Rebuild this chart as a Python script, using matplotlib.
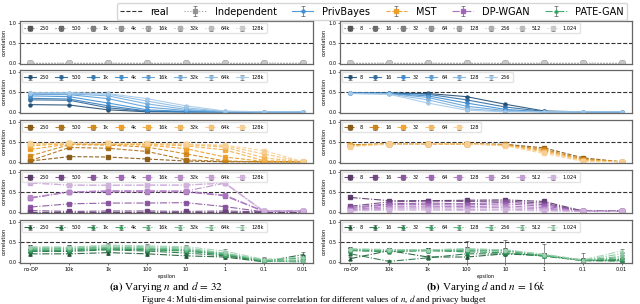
import numpy as np
import matplotlib.pyplot as plt
import matplotlib.colors as mcolors

# x categories (privacy budget) and series labels
eps_labels = ['no-DP', '10k', '1k', '100', '10', '1', '0.1', '0.01']
n_labels   = ['250', '500', '1k', '4k', '16k', '32k', '64k', '128k']
d_labels   = ['8', '16', '32', '64', '128', '256', '512', '1,024']
real_corr  = 0.5

# Independent: zero correlation everywhere
ind_n = [[0.0] * 8 for _ in range(8)]
ind_d = [[0.0] * 8 for _ in range(8)]

# PrivBayes
pb_n = [[0.18, 0.17, 0.05, 0.00, 0.00, 0.00, 0.00, 0.00],
        [0.30, 0.29, 0.10, 0.01, 0.00, 0.00, 0.00, 0.00],
        [0.34, 0.32, 0.15, 0.02, 0.00, 0.00, 0.00, 0.00],
        [0.40, 0.38, 0.22, 0.05, 0.01, 0.00, 0.00, 0.00],
        [0.44, 0.43, 0.33, 0.12, 0.03, 0.00, 0.00, 0.00],
        [0.46, 0.45, 0.40, 0.20, 0.06, 0.00, 0.00, 0.00],
        [0.47, 0.47, 0.44, 0.27, 0.10, 0.01, 0.00, 0.00],
        [0.48, 0.48, 0.46, 0.33, 0.15, 0.02, 0.00, 0.00]]
pb_d = [[0.47, 0.47, 0.46, 0.38, 0.19, 0.02, 0.00, 0.00],
        [0.47, 0.47, 0.44, 0.30, 0.12, 0.01, 0.00, 0.00],
        [0.47, 0.46, 0.40, 0.22, 0.06, 0.00, 0.00, 0.00],
        [0.47, 0.46, 0.36, 0.14, 0.03, 0.00, 0.00, 0.00],
        [0.46, 0.45, 0.30, 0.08, 0.01, 0.00, 0.00, 0.00],
        [0.46, 0.44, 0.22, 0.04, 0.00, 0.00, 0.00, 0.00]]

# MST
mst_n = [[0.02, 0.13, 0.12, 0.07, 0.02, 0.00, 0.00, 0.00],
         [0.03, 0.36, 0.34, 0.26, 0.05, 0.01, 0.00, 0.00],
         [0.15, 0.43, 0.42, 0.37, 0.20, 0.02, 0.00, 0.00],
         [0.31, 0.45, 0.44, 0.42, 0.33, 0.12, 0.01, 0.00],
         [0.40, 0.46, 0.45, 0.44, 0.40, 0.30, 0.03, 0.00],
         [0.44, 0.46, 0.46, 0.45, 0.43, 0.37, 0.10, 0.00],
         [0.45, 0.47, 0.46, 0.46, 0.44, 0.40, 0.20, 0.00],
         [0.46, 0.47, 0.46, 0.46, 0.45, 0.42, 0.28, 0.01]]
mst_d = [[0.43, 0.45, 0.45, 0.45, 0.44, 0.35, 0.10, 0.00],
         [0.42, 0.45, 0.45, 0.45, 0.43, 0.31, 0.07, 0.00],
         [0.41, 0.45, 0.45, 0.45, 0.42, 0.28, 0.05, 0.00],
         [0.40, 0.45, 0.45, 0.45, 0.41, 0.25, 0.03, 0.00],
         [0.38, 0.44, 0.45, 0.45, 0.40, 0.21, 0.01, 0.00]]

# DP-WGAN
wg_n = [[0.00, 0.00, 0.00, 0.00, 0.00, 0.00, 0.00, 0.00],
        [0.03, 0.01, 0.02, 0.02, 0.01, 0.02, 0.00, 0.00],
        [0.12, 0.20, 0.22, 0.22, 0.23, 0.13, 0.00, 0.01],
        [0.35, 0.50, 0.50, 0.50, 0.50, 0.40, 0.01, 0.02],
        [0.34, 0.50, 0.52, 0.52, 0.52, 0.42, 0.02, 0.02],
        [0.36, 0.50, 0.53, 0.53, 0.52, 0.72, 0.01, 0.02],
        [0.72, 0.67, 0.67, 0.67, 0.67, 0.72, 0.02, 0.02],
        [0.74, 0.67, 0.66, 0.67, 0.67, 0.73, 0.02, 0.02]]
wg_d = [[0.36, 0.28, 0.28, 0.29, 0.30, 0.26, 0.02, 0.02],
        [0.14, 0.25, 0.27, 0.26, 0.27, 0.22, 0.01, 0.03],
        [0.11, 0.20, 0.22, 0.20, 0.24, 0.18, 0.02, 0.02],
        [0.08, 0.18, 0.18, 0.17, 0.20, 0.14, 0.02, 0.01],
        [0.05, 0.14, 0.14, 0.13, 0.15, 0.10, 0.01, 0.01],
        [0.04, 0.10, 0.10, 0.10, 0.11, 0.07, 0.01, 0.02],
        [0.03, 0.07, 0.07, 0.06, 0.07, 0.04, 0.01, 0.01],
        [0.02, 0.04, 0.04, 0.03, 0.04, 0.02, 0.01, 0.01]]

# PATE-GAN
pg_n = [[0.20, 0.20, 0.23, 0.20, 0.15, 0.12, 0.00, 0.18],
        [0.26, 0.26, 0.30, 0.27, 0.22, 0.15, 0.02, 0.00],
        [0.28, 0.28, 0.32, 0.30, 0.27, 0.17, 0.01, 0.05],
        [0.30, 0.30, 0.33, 0.31, 0.29, 0.18, 0.03, 0.10],
        [0.32, 0.33, 0.35, 0.33, 0.30, 0.20, 0.04, 0.02],
        [0.34, 0.34, 0.37, 0.35, 0.32, 0.21, 0.02, 0.00],
        [0.36, 0.36, 0.40, 0.38, 0.35, 0.22, 0.05, 0.03],
        [0.38, 0.37, 0.42, 0.40, 0.38, 0.27, 0.06, 0.12]]
pg_d = [[0.08, 0.28, 0.12, 0.12, 0.20, 0.17, 0.03, 0.02],
        [0.20, 0.01, 0.10, 0.20, 0.20, 0.15, 0.04, 0.05],
        [0.28, 0.25, 0.28, 0.25, 0.23, 0.14, 0.03, 0.03],
        [0.29, 0.28, 0.28, 0.28, 0.27, 0.15, 0.04, 0.06],
        [0.30, 0.29, 0.29, 0.30, 0.28, 0.16, 0.05, 0.10],
        [0.31, 0.30, 0.30, 0.31, 0.29, 0.17, 0.03, 0.14],
        [0.32, 0.30, 0.30, 0.32, 0.30, 0.18, 0.04, 0.20],
        [0.33, 0.31, 0.30, 0.33, 0.30, 0.19, 0.05, 0.27]]

# error bar half-widths
pg_n_err = [0.05, 0.05, 0.05, 0.05, 0.05, 0.04, 0.05, 0.06]
pg_d_err = [0.06, 0.04, 0.04, 0.28, 0.32, 0.30, 0.20, 0.18]  # widest series (d=32)
small_err = 0.01

methods = [
    # name, n-data, d-data, base colour, linestyle, marker
    ('Independent', ind_n, ind_d, '#8c8c8c', ':',  's'),
    ('PrivBayes',   pb_n,  pb_d,  '#3b8bd0', '-',  'o'),
    ('MST',         mst_n, mst_d, '#ef9a1a', '--', 's'),
    ('DP-WGAN',     wg_n,  wg_d,  '#9a5cb4', '-.', 's'),
    ('PATE-GAN',    pg_n,  pg_d,  '#2f9e5a', '-.', '^'),
]


def shades(base, n):
    rgb = np.array(mcolors.to_rgb(base))
    out = []
    for t in np.linspace(0, 1, n):
        if t < 0.4:
            c = rgb * (1 - (0.4 - t) * 1.1)
        else:
            c = rgb + (1 - rgb) * (t - 0.4) * 0.9
        out.append(np.clip(c, 0, 1))
    return out


plt.rcParams['font.family'] = 'DejaVu Sans'
fig = plt.figure(figsize=(6.4, 3.04), dpi=100)
W, H = 640.0, 304.0
row_tops = [21, 70, 120, 170, 220]
row_h = 43
cols = [(20, 293), (340, 292)]

x = np.arange(len(eps_labels))
top_handles = {}

for r, (name, dn, dd, base, ls, mk) in enumerate(methods):
    for c, (data, labels) in enumerate([(dn, n_labels), (dd, d_labels)]):
        left, width = cols[c]
        ax = fig.add_axes([left / W, 1 - (row_tops[r] + row_h) / H, width / W, row_h / H])
        real_line = ax.axhline(real_corr, color='#333333', ls='--', lw=0.8, zorder=1)
        colors = shades(base, len(data))
        for i, vals in enumerate(data):
            err = small_err
            if name == 'PATE-GAN':
                err = pg_n_err if c == 0 else (pg_d_err if i == 2 else 0.04)
            h = ax.errorbar(x, vals, yerr=err, color=colors[i], ls=ls, lw=0.8,
                            marker=mk, ms=2.2, ecolor='#222222', elinewidth=0.4,
                            capsize=1.2, capthick=0.4, label=labels[i], alpha=0.9)
            if c == 0 and i == 3:
                top_handles[name] = h
        ax.set_xlim(-0.27, 7.27)
        ax.set_ylim(-0.03, 1.05)
        ax.set_yticks([0.0, 0.5, 1.0])
        ax.tick_params(axis='y', labelsize=3.6, length=1.5, width=0.4, pad=1)
        ax.set_ylabel('correlation', fontsize=3.6, labelpad=1.5)
        if r == len(methods) - 1:
            ax.set_xticks(x)
            ax.set_xticklabels(eps_labels)
            ax.tick_params(axis='x', labelsize=3.6, length=1.5, width=0.4, pad=1.5)
            ax.set_xlabel('epsilon', fontsize=3.6, labelpad=1.5)
        else:
            ax.set_xticks([])
        for sp in ax.spines.values():
            sp.set_color('#666666')
            sp.set_linewidth(0.9)
        ax.legend(loc='upper left', ncol=8, fontsize=3.6, handlelength=2.4,
                  handletextpad=0.8, columnspacing=1.15, borderpad=0.5,
                  frameon=True, edgecolor='#dddddd', fancybox=True,
                  bbox_to_anchor=(0.0, 0.98), borderaxespad=0.3)

handles = [real_line] + [top_handles[m[0]] for m in methods]
labels = ['real'] + [m[0] for m in methods]
fig.legend(handles, labels, loc='upper right', ncol=6, fontsize=7,
           bbox_to_anchor=(0.988, 1.005), handlelength=2.2, columnspacing=1.6,
           handletextpad=0.9, frameon=True, edgecolor='#cccccc', borderpad=0.35)

serif = ['Liberation Serif', 'DejaVu Serif']
plt.rcParams['mathtext.fontset'] = 'stix'
fig.text(166 / W, 1 - 287 / H, r'$\mathbf{(a)}$ Varying $n$ and $d\,=\,32$',
         ha='center', va='center', fontsize=8, family=serif)
fig.text(486 / W, 1 - 287 / H, r'$\mathbf{(b)}$ Varying $d$ and $n\,=\,16k$',
         ha='center', va='center', fontsize=8, family=serif)
fig.text(0.49, 1 - 299 / H,
         r'Figure 4: Multi-dimensional pairwise correlation for different values of $n$, $d$ and privacy budget',
         ha='center', va='center', fontsize=6.5, family=serif)

fig.savefig('out.png', dpi=100)
